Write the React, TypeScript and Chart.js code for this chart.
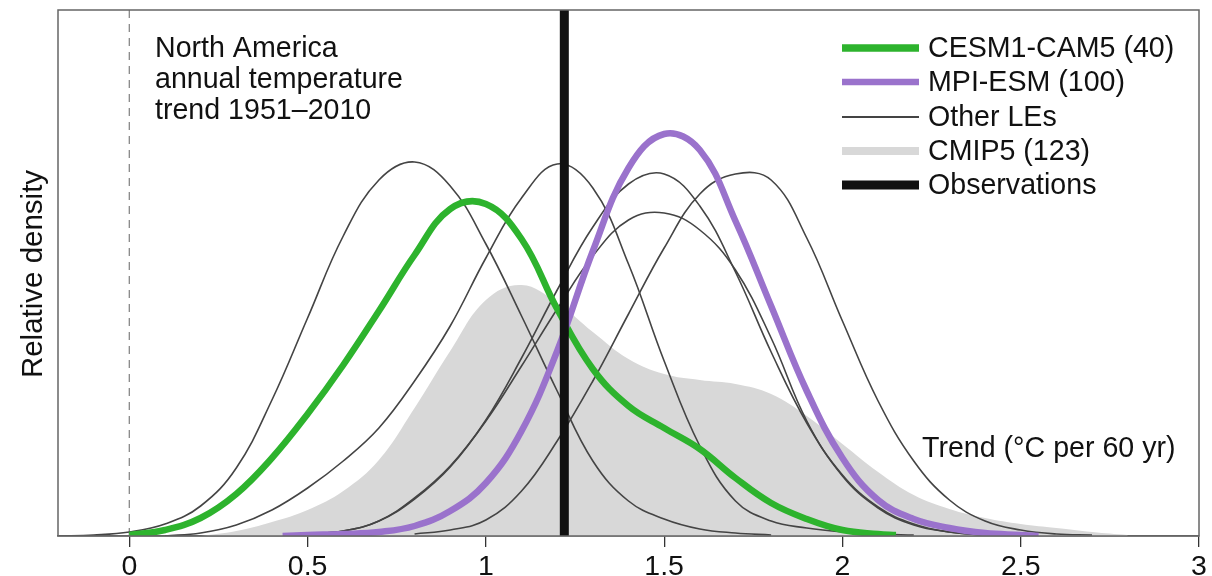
import React, { useEffect, useRef } from "react";
import { Chart, registerables } from "chart.js";

Chart.register(...registerables);

const FONT = "'Liberation Sans', Arial, Helvetica, sans-serif";

const xTickValues = [0, 0.5, 1, 1.5, 2, 2.5, 3];
const xTickLabels = ["0", "0.5", "1", "1.5", "2", "2.5", "3"];
const titleLines = ["North America", "annual temperature", "trend 1951\u20132010"];
const xAxisTitle = "Trend (\u00B0C per 60 yr)";
const yAxisTitle = "Relative density";
const legendLabels = ["CESM1-CAM5 (40)", "MPI-ESM (100)", "Other LEs", "CMIP5 (123)", "Observations"];

const observedTrend = 1.22;

// CMIP5 (123) shaded density
const cmip5Trend = [0.2, 0.3, 0.4, 0.5, 0.6, 0.7, 0.8, 0.9, 1.0, 1.1, 1.2, 1.3, 1.4, 1.5, 1.6, 1.7, 1.8, 1.9, 2.0, 2.1, 2.2, 2.3, 2.4, 2.5, 2.6, 2.7, 2.8];
const cmip5Density = [0.0, 0.05, 0.14, 0.26, 0.45, 0.76, 1.28, 1.85, 2.36, 2.51, 2.33, 2.04, 1.77, 1.62, 1.56, 1.52, 1.42, 1.2, 0.92, 0.64, 0.41, 0.27, 0.18, 0.12, 0.08, 0.04, 0.01];

// CESM1-CAM5 (40)
const cesmTrend = [0.0, 0.1, 0.2, 0.3, 0.4, 0.5, 0.6, 0.7, 0.8, 0.9, 1.0, 1.1, 1.2, 1.3, 1.4, 1.5, 1.6, 1.7, 1.8, 1.9, 2.0, 2.1, 2.15];
const cesmDensity = [0.01, 0.06, 0.18, 0.42, 0.78, 1.22, 1.71, 2.25, 2.81, 3.27, 3.32, 2.97, 2.27, 1.67, 1.3, 1.08, 0.87, 0.58, 0.33, 0.17, 0.06, 0.02, 0.01];

// MPI-ESM (100)
const mpiTrend = [0.43, 0.5, 0.6, 0.7, 0.8, 0.9, 1.0, 1.1, 1.2, 1.3, 1.4, 1.5, 1.6, 1.7, 1.8, 1.9, 2.0, 2.1, 2.2, 2.3, 2.4, 2.5, 2.55];
const mpiDensity = [0.0, 0.01, 0.02, 0.04, 0.1, 0.25, 0.53, 1.05, 1.85, 2.85, 3.68, 4.02, 3.86, 3.15, 2.3, 1.45, 0.78, 0.36, 0.17, 0.08, 0.03, 0.01, 0.0];

// Other large ensembles
const leATrend = [-0.2, -0.1, 0.0, 0.1, 0.2, 0.3, 0.4, 0.5, 0.6, 0.7, 0.8, 0.9, 1.0, 1.1, 1.2, 1.3, 1.4, 1.5, 1.6, 1.7, 1.8];
const leADensity = [0.0, 0.01, 0.04, 0.12, 0.3, 0.68, 1.36, 2.18, 3.0, 3.56, 3.74, 3.5, 2.92, 2.2, 1.45, 0.75, 0.35, 0.17, 0.07, 0.03, 0.01];

const leBTrend = [0.1, 0.2, 0.3, 0.4, 0.5, 0.6, 0.7, 0.8, 0.9, 1.0, 1.1, 1.2, 1.3, 1.4, 1.5, 1.6, 1.7, 1.8, 1.9, 2.0, 2.1, 2.2];
const leBDensity = [0.0, 0.03, 0.11, 0.26, 0.48, 0.75, 1.08, 1.55, 2.1, 2.78, 3.38, 3.72, 3.48, 2.72, 1.75, 0.9, 0.35, 0.15, 0.08, 0.04, 0.02, 0.01];

const leCTrend = [0.5, 0.6, 0.7, 0.8, 0.9, 1.0, 1.1, 1.2, 1.3, 1.4, 1.5, 1.6, 1.7, 1.8, 1.9, 2.0, 2.1, 2.2, 2.3, 2.4];
const leCDensity = [0.02, 0.05, 0.15, 0.37, 0.69, 1.16, 1.78, 2.46, 3.09, 3.52, 3.62, 3.3, 2.64, 1.84, 1.13, 0.61, 0.29, 0.12, 0.04, 0.01];

const leDTrend = [0.5, 0.6, 0.7, 0.8, 0.9, 1.0, 1.1, 1.2, 1.3, 1.4, 1.5, 1.6, 1.7, 1.8, 1.9, 2.0, 2.1, 2.2, 2.3, 2.4];
const leDDensity = [0.02, 0.05, 0.15, 0.38, 0.7, 1.15, 1.7, 2.27, 2.8, 3.16, 3.23, 3.06, 2.66, 1.98, 1.15, 0.6, 0.28, 0.11, 0.04, 0.01];

const leETrend = [0.8, 0.9, 1.0, 1.1, 1.2, 1.3, 1.4, 1.5, 1.6, 1.7, 1.8, 1.9, 2.0, 2.1, 2.2, 2.3, 2.4, 2.5, 2.6, 2.7];
const leEDensity = [0.02, 0.06, 0.16, 0.45, 0.95, 1.55, 2.22, 2.88, 3.42, 3.62, 3.56, 2.98, 2.15, 1.35, 0.75, 0.36, 0.15, 0.06, 0.02, 0.01];

const Y_MAX = 5.26;

const GREEN = "#2db32d";
const PURPLE = "#9a72cc";
const OTHER = "#444444";
const GREY = "#d8d8d8";
const OBS = "#111111";
const TENSION = 0.4;

function zip(xs: number[], ys: number[]) {
  return xs.map((x, i) => ({ x, y: ys[i] }));
}

const overlayPlugin = {
  id: "overlay",
  afterDraw(chart: any) {
    const { ctx, chartArea } = chart;
    ctx.save();
    // frame
    ctx.strokeStyle = "#666";
    ctx.lineWidth = 1.5;
    ctx.strokeRect(chartArea.left, chartArea.top, chartArea.right - chartArea.left, chartArea.bottom - chartArea.top);

    ctx.fillStyle = "#111";
    ctx.font = `28.6px ${FONT}`;
    ctx.textAlign = "left";
    ctx.textBaseline = "alphabetic";
    // title
    const baselines = [57, 88, 119];
    titleLines.forEach((t, i) => ctx.fillText(t, 155, baselines[i]));
    // x axis title
    ctx.fillText(xAxisTitle, 922, 457);
    // y axis title
    ctx.save();
    ctx.font = `29.5px ${FONT}`;
    ctx.translate(42, 274);
    ctx.rotate(-Math.PI / 2);
    ctx.textAlign = "center";
    ctx.fillText(yAxisTitle, 0, 0);
    ctx.restore();

    // legend
    const rows = [48, 82, 117, 151, 185];
    const colors = [GREEN, PURPLE, OTHER, GREY, OBS];
    const widths = [7.5, 6.5, 1.8, 8, 9];
    rows.forEach((y, i) => {
      ctx.beginPath();
      ctx.strokeStyle = colors[i];
      ctx.lineWidth = widths[i];
      ctx.lineCap = "butt";
      ctx.moveTo(842, y);
      ctx.lineTo(919, y);
      ctx.stroke();
      ctx.fillStyle = "#111";
      ctx.textBaseline = "middle";
      ctx.fillText(legendLabels[i], 928, y + 1);
    });
    ctx.restore();
  },
};

export default function App() {
  const ref = useRef<HTMLCanvasElement | null>(null);

  useEffect(() => {
    document.body.style.margin = "0";
    if (!ref.current) return;
    const thin = (data: any[]) => ({
      data,
      borderColor: OTHER,
      borderWidth: 1.6,
      pointRadius: 0,
      fill: false,
      tension: TENSION,
    });
    const chart = new Chart(ref.current, {
      type: "line",
      data: {
        datasets: [
          {
            label: "Observations",
            data: [
              { x: observedTrend, y: 0 },
              { x: observedTrend, y: Y_MAX },
            ],
            borderColor: OBS,
            borderWidth: 9,
            pointRadius: 0,
            fill: false,
          },
          {
            label: "MPI-ESM (100)",
            data: zip(mpiTrend, mpiDensity),
            borderColor: PURPLE,
            borderWidth: 6.5,
            pointRadius: 0,
            fill: false,
            tension: TENSION,
          },
          {
            label: "CESM1-CAM5 (40)",
            data: zip(cesmTrend, cesmDensity),
            borderColor: GREEN,
            borderWidth: 6.5,
            pointRadius: 0,
            fill: false,
            tension: TENSION,
          },
          { label: "LE A", ...thin(zip(leATrend, leADensity)) },
          { label: "LE B", ...thin(zip(leBTrend, leBDensity)) },
          { label: "LE C", ...thin(zip(leCTrend, leCDensity)) },
          { label: "LE D", ...thin(zip(leDTrend, leDDensity)) },
          { label: "LE E", ...thin(zip(leETrend, leEDensity)) },
          {
            label: "zero",
            data: [
              { x: 0, y: 0 },
              { x: 0, y: Y_MAX },
            ],
            borderColor: "#888",
            borderWidth: 1.3,
            borderDash: [8, 6],
            pointRadius: 0,
            fill: false,
          },
          {
            label: "CMIP5 (123)",
            data: zip(cmip5Trend, cmip5Density),
            borderColor: GREY,
            borderWidth: 0,
            backgroundColor: GREY,
            pointRadius: 0,
            fill: "origin",
            tension: TENSION,
          },
        ] as any,
      },
      options: {
        animation: false,
        responsive: false,
        devicePixelRatio: 1,
        layout: { padding: { left: 58, right: 13, top: 10, bottom: 0 } },
        plugins: { legend: { display: false }, tooltip: { enabled: false } },
        scales: {
          x: {
            type: "linear",
            min: -0.2,
            max: 3,
            afterBuildTicks: (scale: any) => {
              scale.ticks = xTickValues.map((v) => ({ value: v }));
            },
            afterFit: (scale: any) => {
              scale.height = 40;
            },
            border: { display: true, color: "#666", width: 1.5 },
            grid: {
              drawOnChartArea: false,
              drawTicks: true,
              tickLength: 11,
              color: "#333",
              lineWidth: 1.3,
            },
            ticks: {
              autoSkip: false,
              maxRotation: 0,
              padding: 3,
              color: "#111",
              font: { family: FONT, size: 28.5 },
              callback: (v: any) => {
                const i = xTickValues.indexOf(Number(v));
                return i >= 0 ? xTickLabels[i] : "";
              },
            },
          },
          y: {
            type: "linear",
            min: 0,
            max: Y_MAX,
            display: false,
          },
        },
      },
      plugins: [overlayPlugin],
    });
    return () => chart.destroy();
  }, []);

  return (
    <div style={{ width: 1212, height: 576, position: "relative" }}>
      <canvas ref={ref} width={1212} height={576} style={{ width: 1212, height: 576, display: "block" }} />
    </div>
  );
}
